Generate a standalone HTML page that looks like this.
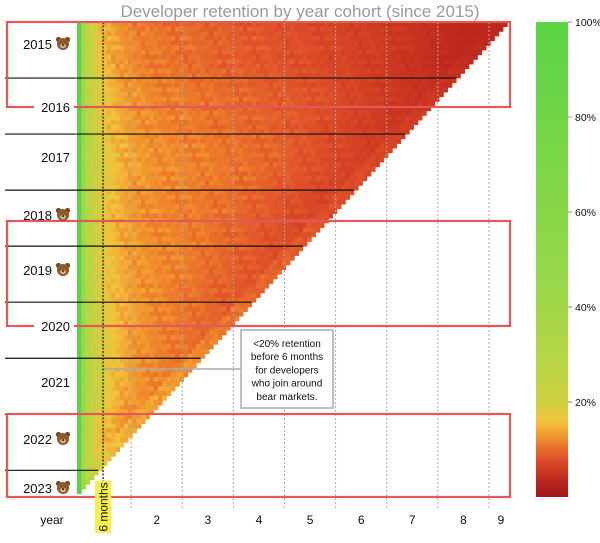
<!DOCTYPE html>
<html><head><meta charset="utf-8"><style>
html,body{margin:0;padding:0;background:#fff;}
body{width:600px;height:538px;overflow:hidden;font-family:"Liberation Sans",sans-serif;}
svg text{font-family:"Liberation Sans",sans-serif;}
</style></head><body>
<svg id="chart" width="600" height="538" viewBox="0 0 600 538" xmlns="http://www.w3.org/2000/svg">
<defs>
<linearGradient id="cbar" x1="0" y1="1" x2="0" y2="0">
<stop offset="0" stop-color="#a01818"/><stop offset="0.04" stop-color="#c02a1e"/><stop offset="0.08" stop-color="#e0502a"/><stop offset="0.12" stop-color="#f08a2c"/><stop offset="0.16" stop-color="#f3c33c"/><stop offset="0.20" stop-color="#cdd040"/><stop offset="0.30" stop-color="#b4d645"/><stop offset="0.45" stop-color="#98d84a"/><stop offset="1" stop-color="#5ad444"/>
</linearGradient>
</defs>
<text x="300" y="17" text-anchor="middle" font-size="17" fill="#9a9a9a">Developer retention by year cohort (since 2015)</text>
<g id="cells"></g>
<g id="grid"></g>
<g id="overlay"></g>
<rect x="536" y="22" width="32" height="475" fill="url(#cbar)"/>
<g id="cbticks"></g>
</svg>
<script>
const colCurve=[1.00,0.42,0.30,0.24,0.21,0.19,0.178,0.168,0.16,0.153,0.147,0.142,0.138,0.135,0.132,0.13,0.128,0.126,0.124,0.122,0.121,0.12,0.119,0.118,0.117,0.116,0.115,0.114,0.113,0.112,
0.110,0.109,0.108,0.107,0.106,0.105,0.104,0.103,0.102,0.101,0.100,0.099,0.098,0.097,0.096,0.095,0.094,0.093,0.092,0.091,0.090,0.089,0.088,0.087,0.086,0.085,0.084,0.083,0.082,0.081,0.080,0.079,0.078,0.077,0.076,0.075,0.074,0.073,0.072,0.071,0.070,0.069,0.068,0.067,0.066,0.065,0.064,0.063,0.062,0.061,0.060,0.059,0.058,0.057,0.056,0.055,0.054,0.053,0.052,0.051,0.050,0.049,0.048,0.047,0.046,0.045,0.044,0.043,0.042,0.041,0.040];
const rowLevel=[0.82,0.86,0.84,0.88,0.85,0.9,0.87,0.84,0.89,0.86,0.91,0.88,
0.92,0.9,0.95,0.93,0.97,0.94,0.92,0.96,0.99,0.95,0.93,0.97,
1.0,0.97,1.02,0.99,1.03,0.98,1.01,1.04,0.99,1.02,0.98,1.0,
0.96,0.99,0.95,0.97,1.0,0.94,0.98,0.96,0.99,0.95,0.97,1.0,
0.98,0.95,1.0,0.97,0.99,0.96,1.01,0.98,0.95,1.0,0.97,0.99,
1.0,1.02,0.99,1.03,1.01,1.04,1.0,1.05,1.02,1.06,1.03,1.05,
1.08,1.06,1.1,1.07,1.12,1.09,1.11,1.08,1.13,1.1,1.07,1.09,
1.05,1.02,1.06,1.0,1.03,0.99,1.02,0.98,1.01,0.97,1.0,0.96,
0.98,0.95,0.97,0.94,0.96];
const calFactor=[1.0,1.02,0.98,1.03,0.99,1.01,0.97,1.04,1.0,0.98,1.02,0.99,
1.01,0.97,1.03,1.0,0.98,1.04,0.99,1.02,0.97,1.01,1.03,0.98,
1.0,1.02,0.97,1.01,1.04,0.99,0.98,1.03,1.0,0.97,1.02,1.0,
0.99,1.03,0.98,1.01,0.97,1.02,1.0,0.98,1.04,0.99,1.01,0.97,
1.02,1.0,0.98,1.03,0.99,1.01,0.97,1.02,1.0,0.98,1.03,0.99,
1.01,0.98,1.02,1.0,0.97,1.03,0.99,1.01,0.98,1.02,1.0,0.97,
1.01,0.99,1.02,0.98,1.0,0.97,0.96,0.96,
0.95,0.94,0.94,0.93,0.92,0.92,0.91,0.9,0.9,0.89,0.88,0.88,0.87,0.86,0.86,0.85,0.84];
const cellNoise=[1.0,0.93,1.08,0.97,1.05,0.9,1.03,0.96,1.1,0.94,1.01,1.06,0.92,0.99,1.07,0.95,1.02];
const yearLabels=["2015","2016","2017","2018","2019","2020","2021","2022","2023"];
const bearYears=[true,false,false,true,true,false,false,true,true];
const yearLabelY=[44,107,157,215,270,326,382,439,488];
const xTickLabels=["2","3","4","5","6","7","8","9"];
const cbTickLabels=["100%","80%","60%","40%","20%"];
const cbTickValues=[1.0,0.8,0.6,0.4,0.2];
const boxes=[[0,1],[3,5],[7,8]];

const NS="http://www.w3.org/2000/svg";
function mk(tag,attrs,parent){const e=document.createElementNS(NS,tag);for(const k in attrs)e.setAttribute(k,attrs[k]);parent.appendChild(e);return e;}
const X0=77,CW=4.26,Y0=22,CH=4.67;
function xCell(c){return X0+c*CW;}
function yCell(r){return Y0+r*CH;}
function yCb(v){return 497-v*475;}
const stops=[[0,[160,24,24]],[0.04,[192,42,30]],[0.08,[224,80,42]],[0.12,[240,138,44]],[0.16,[243,195,60]],[0.20,[205,208,64]],[0.30,[180,214,69]],[0.45,[152,216,74]],[1,[90,212,68]]];
function color(v){v=Math.max(0,Math.min(1,v));for(let i=1;i<stops.length;i++){if(v<=stops[i][0]){const a=stops[i-1],b=stops[i];const t=(v-a[0])/(b[0]-a[0]);const c=a[1].map((x,j)=>Math.round(x+(b[1][j]-x)*t));return`rgb(${c[0]},${c[1]},${c[2]})`;}}return"rgb(90,212,68)";}

const cells=document.getElementById('cells');
const N=rowLevel.length;
for(let r=0;r<N;r++){
  for(let c=0;c<N-r&&c<colCurve.length;c++){
    const v=c===0?colCurve[0]:colCurve[c]*rowLevel[r]*(calFactor[r+c]||1)*cellNoise[(r*7+c*3)%cellNoise.length];
    const el=mk('rect',{x:xCell(c).toFixed(2),y:yCell(r).toFixed(2),width:(CW+0.4).toFixed(2),height:(CH+0.4).toFixed(2),fill:color(v)},cells);
    
    
  }
}
const grid=document.getElementById('grid');
for(let k=1;k<=8;k++){
  const gx=xCell(12*k)+3;
  const g=mk('line',{x1:gx,y1:22,x2:gx,y2:508,stroke:'#aaa','stroke-width':1,'stroke-dasharray':'2,2'},grid);
  
  
}
const sixLine=mk('line',{x1:xCell(6)+0.5,y1:22,x2:xCell(6)+0.5,y2:482,stroke:'#111','stroke-width':1.2,'stroke-dasharray':'2,1.5'},grid);


for(let k=1;k<=8;k++){
  const r=12*k;const yy=yCell(r);
  const l=mk('line',{x1:5,y1:yy,x2:xCell(N-r),y2:yy,stroke:'#111','stroke-width':1.2},grid);
  
  
}
const ov=document.getElementById('overlay');
boxes.forEach(b=>{
  const yt=b[0]===0?22:(b[0]===3?221:414);
  const yb=b[1]===1?107:(b[1]===5?326:497);
  const rr=mk('rect',{x:7,y:yt,width:503,height:yb-yt,fill:'none',stroke:'#e05a5a','stroke-width':2.2},ov);
  
  
});
yearLabels.forEach((t,i)=>{
  const y=yearLabelY[i];
  const onLine=(i===1||i===5);
  const right=bearYears[i]?52:70;
  if(onLine){const bg=mk('rect',{x:34,y:y-8,width:40,height:16,fill:'#fff'},ov);}
  const tx=mk('text',{x:right,y:y+5,'text-anchor':'end','font-size':13,fill:'#111'},ov);
  tx.textContent=t;
  
  
  if(bearYears[i]){
    const g=mk('g',{transform:`translate(63,${y})`},ov);
    
    
    mk('circle',{cx:-4.5,cy:-4.5,r:2.6,fill:'#7a4a26'},g);
    mk('circle',{cx:4.5,cy:-4.5,r:2.6,fill:'#7a4a26'},g);
    mk('circle',{cx:0,cy:0,r:6,fill:'#8b5a2e'},g);
    mk('ellipse',{cx:0,cy:2,rx:3,ry:2.2,fill:'#d9b07a'},g);
    mk('circle',{cx:0,cy:1,r:1,fill:'#222'},g);
  }
});
const yl=mk('text',{x:52,y:524,'text-anchor':'middle','font-size':12,fill:'#111'},ov);
yl.textContent='year';
xTickLabels.forEach((t,i)=>{
  const k=i+1;
  const xx=i<7?xCell(12*k+6)+3:501;
  const tt=mk('text',{x:xx,y:524,'text-anchor':'middle','font-size':12,fill:'#111'},ov);
  tt.textContent=t;
});
const sg=mk('g',{transform:`translate(${xCell(6)+0.5},507) rotate(-90)`},ov);

mk('rect',{x:-26,y:-8,width:52,height:16,fill:'#f7f04a'},sg);
const st=mk('text',{x:0,y:4.5,'text-anchor':'middle','font-size':12,fill:'#111'},sg);st.textContent='6 months';
const ag=mk('g',{},ov);
mk('line',{x1:104,y1:369,x2:241,y2:369,stroke:'#aaa','stroke-width':1.5},ag);
mk('rect',{x:241,y:330,width:92,height:78,fill:'#fff',stroke:'#aaa','stroke-width':1.5},ag);
["<20% retention","before 6 months","for developers","who join around","bear markets."].forEach((s,i)=>{
  const t=mk('text',{x:287,y:347+i*13.2,'text-anchor':'middle','font-size':10,fill:'#111'},ag);t.textContent=s;
});
const cb=document.getElementById('cbticks');
cbTickLabels.forEach((t,i)=>{
  const yy=yCb(cbTickValues[i]);
  const tl=mk('line',{x1:568,y1:yy,x2:572,y2:yy,stroke:'#888','stroke-width':1},cb);
  
  const tx=mk('text',{x:575,y:yy+4,'font-size':10.5,fill:'#111'},cb);
  tx.textContent=t;
});
</script>
</body></html>
